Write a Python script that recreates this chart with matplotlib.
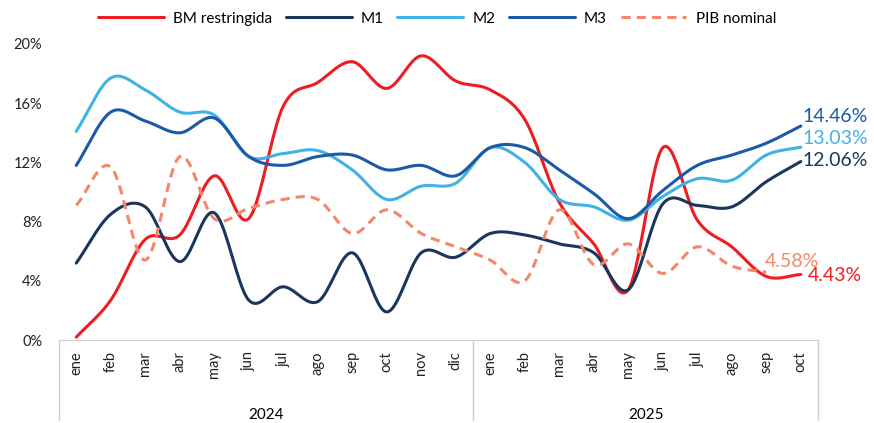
import matplotlib.pyplot as plt
import numpy as np

plt.rcParams['font.family'] = ['Lato', 'DejaVu Sans']

months_2024 = ['ene', 'feb', 'mar', 'abr', 'may', 'jun', 'jul', 'ago', 'sep', 'oct', 'nov', 'dic']
months_2025 = ['ene', 'feb', 'mar', 'abr', 'may', 'jun', 'jul', 'ago', 'sep', 'oct']
months = months_2024 + months_2025
years = ['2024', '2025']

bm = [0.2, 2.7, 6.8, 7.1, 11.1, 8.2, 15.8, 17.4, 18.8, 17.0, 19.2, 17.5,
      16.9, 14.9, 9.3, 6.5, 3.4, 13.0, 8.1, 6.3, 4.3, 4.43]
m1 = [5.2, 8.5, 9.0, 5.3, 8.6, 2.7, 3.6, 2.6, 5.9, 1.9, 5.9, 5.6,
      7.2, 7.1, 6.5, 5.9, 3.4, 9.2, 9.1, 9.0, 10.7, 12.06]
m2 = [14.1, 17.7, 16.9, 15.4, 15.2, 12.4, 12.6, 12.8, 11.5, 9.5, 10.4, 10.6,
      13.0, 12.0, 9.5, 9.0, 8.1, 9.7, 10.9, 10.8, 12.5, 13.03]
m3 = [11.8, 15.4, 14.8, 14.0, 15.0, 12.4, 11.8, 12.4, 12.5, 11.5, 11.8, 11.1,
      13.0, 13.0, 11.5, 9.9, 8.2, 10.1, 11.8, 12.5, 13.3, 14.46]
pib = [9.1, 11.7, 5.4, 12.4, 8.2, 8.9, 9.5, 9.5, 7.2, 8.8, 7.2, 6.3,
       5.4, 4.0, 8.8, 5.1, 6.5, 4.5, 6.3, 5.0, 4.58]

c_bm = '#EE1D23'
c_m1 = '#1B365D'
c_m2 = '#41B2E6'
c_m3 = '#1C5AA8'
c_pib = '#F4876B'


def smooth(y, n=20):
    # Catmull-Rom curve through the points, like Excel's smoothed line
    y = np.asarray(y, dtype=float)
    x = np.arange(len(y), dtype=float)
    px = np.concatenate([[2 * x[0] - x[1]], x, [2 * x[-1] - x[-2]]])
    py = np.concatenate([[2 * y[0] - y[1]], y, [2 * y[-1] - y[-2]]])
    xs, ys = [], []
    t = np.linspace(0, 1, n, endpoint=False)
    for i in range(1, len(px) - 2):
        for p, out in ((px, xs), (py, ys)):
            p0, p1, p2, p3 = p[i - 1], p[i], p[i + 1], p[i + 2]
            out.extend(0.5 * (2 * p1 + (-p0 + p2) * t + (2 * p0 - 5 * p1 + 4 * p2 - p3) * t ** 2
                              + (-p0 + 3 * p1 - 3 * p2 + p3) * t ** 3))
    xs.append(x[-1])
    ys.append(y[-1])
    return np.array(xs), np.array(ys)


fig = plt.figure(figsize=(8.74, 4.23), dpi=100)
ax = fig.add_axes([0.0675, 0.196, 0.8685, 0.70])

series = [('BM restringida', bm, c_bm, '-'), ('M1', m1, c_m1, '-'), ('M2', m2, c_m2, '-'),
          ('M3', m3, c_m3, '-'), ('PIB nominal', pib, c_pib, (0, (3, 2)))]
for name, vals, col, ls in series:
    sx, sy = smooth(vals)
    ax.plot(sx, sy, color=col, lw=2.2, ls=ls, label=name, solid_capstyle='round')

ax.set_xlim(-0.5, len(months) - 0.5)
ax.set_ylim(0, 20)
ax.set_yticks(np.arange(0, 21, 4))
ax.set_yticklabels([f'{v}%' for v in range(0, 21, 4)])
ax.set_xticks(range(len(months)))
ax.set_xticklabels(months, rotation=90)
ax.tick_params(axis='both', length=0, labelsize=10.5, colors='#222222')
ax.tick_params(axis='x', pad=8)
ax.tick_params(axis='y', pad=12)
for s in ['top', 'right', 'left']:
    ax.spines[s].set_visible(False)
ax.spines['bottom'].set_color('#D0D0D0')

# year group frame below axis
tr = ax.get_xaxis_transform()
for xv in [-0.5, len(months_2024) - 0.5, len(months) - 0.5]:
    ax.plot([xv, xv], [0, -0.27], transform=tr, color='#D0D0D0', lw=1, clip_on=False)
ax.text((len(months_2024) - 1) / 2, -0.253, years[0], transform=tr, ha='center', va='center', fontsize=11)
ax.text(len(months_2024) + (len(months_2025) - 1) / 2, -0.253, years[1], transform=tr,
        ha='center', va='center', fontsize=11)

# end labels
xe = len(months) - 1 + 0.05
ax.text(xe, 15.1, f'{m3[-1]:.2f}%', color=c_m3, fontsize=14, va='center', ha='left')
ax.text(xe, 13.65, f'{m2[-1]:.2f}%', color=c_m2, fontsize=14, va='center', ha='left')
ax.text(xe, 12.15, f'{m1[-1]:.2f}%', color=c_m1, fontsize=14, va='center', ha='left')
ax.text(len(pib) - 1 - 0.05, 5.3, f'{pib[-1]:.2f}%', color=c_pib, fontsize=14, va='center', ha='left')
ax.text(len(months) - 1 + 0.2, bm[-1] - 0.1, f'{bm[-1]:.2f}%', color=c_bm, fontsize=14, va='center', ha='left')

fig.legend(loc='upper center', bbox_to_anchor=(0.5, 1.005), ncol=5, frameon=False, fontsize=11,
           handlelength=4.3, columnspacing=0.9, handletextpad=0.6)

fig.savefig('out.png', dpi=100)
